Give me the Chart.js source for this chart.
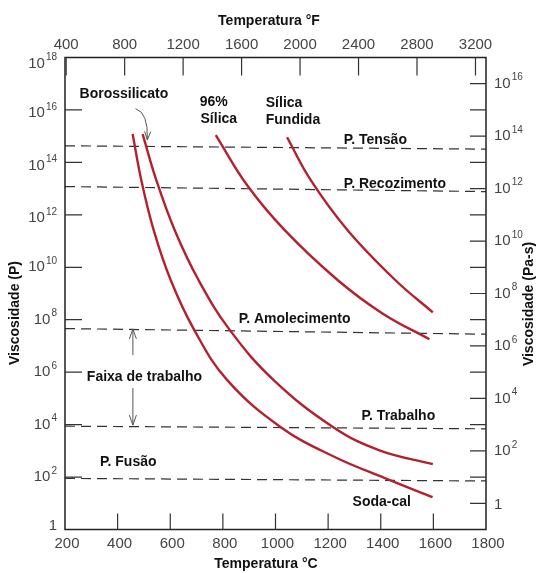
<!DOCTYPE html>
<html><head><meta charset="utf-8">
<script src="https://cdn.jsdelivr.net/npm/chart.js@4.4.0/dist/chart.umd.min.js"></script>
<style>html,body{margin:0;padding:0;background:#fff}#wrap{width:538px;height:573px}</style>
</head><body><div id="wrap"><canvas id="c" width="538" height="573"></canvas></div>
<script>
// ---- axis ticks ----
const celsiusTicks = [200, 400, 600, 800, 1000, 1200, 1400, 1600, 1800];
const fahrenheitTicks = [400, 800, 1200, 1600, 2000, 2400, 2800, 3200];
const poiseTickExponents = [2, 4, 6, 8, 10, 12, 14, 16];
const poiseLabelExponents = [0, 2, 4, 6, 8, 10, 12, 14, 16, 18];
const pasTickExponents = [0, 1, 2, 3, 4, 5, 6, 7, 8, 9, 10, 11, 12, 13, 14, 15, 16];
const pasLabelExponents = [0, 2, 4, 6, 8, 10, 12, 14, 16];

// ---- glass curves: temperature (°C) and viscosity (P) ----
const sodaLimeT = [457, 490, 537, 602, 691, 815, 1020, 1225, 1418, 1597];
const sodaLimeEta = [1.2e15, 2.1e13, 2.6e11, 3.2e9, 4.1e7, 5.2e5, 8.0e3, 5.8e2, 8.9e1, 1.7e1];
const borosilicateT = [495, 547, 617, 708, 826, 993, 1221, 1395, 1598];
const borosilicateEta = [1.2e15, 2.1e13, 2.6e11, 3.2e9, 4.1e7, 5.0e5, 7.8e3, 1.05e3, 3.1e2];
const silica96T = [773, 891, 1035, 1237, 1408, 1585];
const silica96Eta = [1.1e15, 1.4e13, 2.6e11, 3.2e9, 1.7e8, 1.8e7];
const fusedSilicaT = [1044, 1134, 1274, 1456, 1598];
const fusedSilicaEta = [9.1e14, 2.1e13, 2.6e11, 3.2e9, 1.9e8];

// ---- reference points (dashed lines), viscosity (P) at left and right edges ----
const refLineT = [200, 1800];
const strainEta = [4.3e14, 3.2e14];
const annealingEta = [1.2e13, 7.7e12];
const softeningEta = [4.6e7, 2.8e7];
const workingEta = [8.7e3, 6.9e3];
const meltingEta = [8.9e1, 7.1e1];

const pts = (xs, ys) => xs.map((x, i) => ({x: x, y: ys[i]}));
const RED = '#b5202e';
const curve = (d) => ({data: d, borderColor: RED, borderWidth: 2.4, pointRadius: 0, tension: 0.4, fill: false});
const dashed = (d) => ({data: d, borderColor: '#333', borderWidth: 1.2, borderDash: [10, 6], pointRadius: 0, tension: 0, fill: false});

const BOLD = 'bold 14px "Liberation Sans Narrow", "Liberation Sans", Arial, sans-serif';
const TICKFONT = '15px "Liberation Sans", Arial, sans-serif';
const EXPFONT = '10px "Liberation Sans", Arial, sans-serif';

// annotations in data coordinates (°C, P)
const notes = [
  {t: 'Borossilicato', c: 424, p: 16.61, align: 'center'},
  {t: '96%', c: 712, p: 16.31, align: 'left'},
  {t: 'Sílica', c: 715, p: 15.66, align: 'left'},
  {t: 'Sílica', c: 963, p: 16.27, align: 'left'},
  {t: 'Fundida', c: 963, p: 15.62, align: 'left'},
  {t: 'P. Tensão', c: 1259, p: 14.86, align: 'left'},
  {t: 'P. Recozimento', c: 1259, p: 13.18, align: 'left'},
  {t: 'P. Amolecimento', c: 860, p: 8.03, align: 'left'},
  {t: 'Faixa de trabalho', c: 283, p: 5.82, align: 'left'},
  {t: 'P. Trabalho', c: 1327, p: 4.32, align: 'left'},
  {t: 'P. Fusão', c: 333, p: 2.57, align: 'left'},
  {t: 'Soda-cal', c: 1293, p: 1.04, align: 'left'}
];

function drawPow(ctx, exp, x, y, align) {
  if (exp === 0) {
    ctx.font = TICKFONT; ctx.textAlign = align; ctx.textBaseline = 'middle';
    ctx.fillText('1', x, y);
    return;
  }
  ctx.font = TICKFONT;
  const wb = ctx.measureText('10').width;
  ctx.font = EXPFONT;
  const we = ctx.measureText(String(exp)).width;
  let x0 = align === 'right' ? x - wb - we - 1 : x;
  ctx.textAlign = 'left'; ctx.textBaseline = 'middle';
  ctx.font = TICKFONT; ctx.fillText('10', x0, y);
  ctx.font = EXPFONT; ctx.fillText(String(exp), x0 + wb + 1, y - 6);
}

const framePlugin = {
  id: 'frame',
  afterDatasetsDraw(chart) {
    const {ctx, chartArea: a, scales} = chart;
    const sx = scales.x, sy = scales.y, sf = scales.xF, sp = scales.yPa;
    ctx.save();
    // frame
    ctx.strokeStyle = '#222'; ctx.lineWidth = 1.5;
    ctx.strokeRect(a.left, a.top, a.right - a.left, a.bottom - a.top);
    ctx.lineWidth = 1.2; ctx.strokeStyle = '#333';
    ctx.beginPath();
    // bottom ticks (inward)
    celsiusTicks.forEach(v => { if (v > 200 && v < 1800) { const x = sx.getPixelForValue(v); ctx.moveTo(x, a.bottom); ctx.lineTo(x, a.bottom - 16); } });
    // top ticks (°F)
    fahrenheitTicks.forEach(v => { const x = sf.getPixelForValue(v); ctx.moveTo(x, a.top); ctx.lineTo(x, a.top + 18); });
    // left ticks
    poiseTickExponents.forEach(e => { const y = sy.getPixelForValue(Math.pow(10, e)); ctx.moveTo(a.left, y); ctx.lineTo(a.left + 17, y); });
    // right ticks
    pasTickExponents.forEach(e => { const y = sp.getPixelForValue(Math.pow(10, e)); ctx.moveTo(a.right, y); ctx.lineTo(a.right - 16, y); });
    ctx.stroke();

    // tick labels
    ctx.fillStyle = '#444';
    ctx.font = TICKFONT; ctx.textAlign = 'center'; ctx.textBaseline = 'middle';
    celsiusTicks.forEach(v => ctx.fillText(String(v), sx.getPixelForValue(v) + 2, a.bottom + 14));
    fahrenheitTicks.forEach(v => ctx.fillText(String(v), sf.getPixelForValue(v), a.top - 13));
    poiseLabelExponents.forEach(e => {
      const off = e === 0 ? -4 : (e === 18 ? 6 : (e >= 12 ? 3 : 0));
      drawPow(ctx, e, 57, sy.getPixelForValue(Math.pow(10, e)) + off, 'right');
    });
    pasLabelExponents.forEach(e => drawPow(ctx, e, a.right + 8, sp.getPixelForValue(Math.pow(10, e)) + (e === 0 ? 2 : 0), 'left'));

    // axis titles
    ctx.fillStyle = '#111'; ctx.font = BOLD; ctx.textAlign = 'center'; ctx.textBaseline = 'middle';
    ctx.fillText('Temperatura °F', 269, 21);
    ctx.fillText('Temperatura °C', 266, 564);
    ctx.save(); ctx.translate(15, 313); ctx.rotate(-Math.PI / 2); ctx.fillText('Viscosidade (P)', 0, 0); ctx.restore();
    ctx.save(); ctx.translate(529, 304); ctx.rotate(-Math.PI / 2); ctx.fillText('Viscosidade (Pa-s)', 0, 0); ctx.restore();

    // annotations
    ctx.fillStyle = '#111';
    notes.forEach(n => {
      ctx.textAlign = n.align; ctx.textBaseline = 'middle'; ctx.font = BOLD;
      ctx.fillText(n.t, sx.getPixelForValue(n.c), sy.getPixelForValue(Math.pow(10, n.p)));
    });

    // working range arrows
    ctx.strokeStyle = '#555'; ctx.lineWidth = 1;
    const ax = sx.getPixelForValue(458);
    const arrow = (y0, y1) => {
      const dir = Math.sign(y1 - y0);
      ctx.beginPath();
      ctx.moveTo(ax, y0); ctx.lineTo(ax, y1);
      ctx.moveTo(ax - 3.5, y1 - dir * 10); ctx.lineTo(ax, y1); ctx.lineTo(ax + 3.5, y1 - dir * 10);
      ctx.stroke();
    };
    arrow(sy.getPixelForValue(Math.pow(10, 6.65)), sy.getPixelForValue(Math.pow(10, 7.65)));
    arrow(sy.getPixelForValue(Math.pow(10, 5.4)), sy.getPixelForValue(Math.pow(10, 3.98)));

    // borosilicate curved pointer
    const p0 = {x: sx.getPixelForValue(468), y: sy.getPixelForValue(Math.pow(10, 16.05))};
    const pc = {x: sx.getPixelForValue(517), y: sy.getPixelForValue(Math.pow(10, 15.9))};
    const p1 = {x: sx.getPixelForValue(513), y: sy.getPixelForValue(Math.pow(10, 14.86))};
    ctx.beginPath(); ctx.moveTo(p0.x, p0.y); ctx.quadraticCurveTo(pc.x, pc.y, p1.x, p1.y); ctx.stroke();
    const ang = Math.atan2(p1.y - pc.y, p1.x - pc.x);
    ctx.beginPath();
    ctx.moveTo(p1.x - 9 * Math.cos(ang - 0.35), p1.y - 9 * Math.sin(ang - 0.35));
    ctx.lineTo(p1.x, p1.y);
    ctx.lineTo(p1.x - 9 * Math.cos(ang + 0.35), p1.y - 9 * Math.sin(ang + 0.35));
    ctx.stroke();
    ctx.restore();
  }
};

new Chart(document.getElementById('c'), {
  type: 'line',
  data: {
    datasets: [
      curve(pts(sodaLimeT, sodaLimeEta)),
      curve(pts(borosilicateT, borosilicateEta)),
      curve(pts(silica96T, silica96Eta)),
      curve(pts(fusedSilicaT, fusedSilicaEta)),
      dashed(pts(refLineT, strainEta)),
      dashed(pts(refLineT, annealingEta)),
      dashed(pts(refLineT, softeningEta)),
      dashed(pts(refLineT, workingEta)),
      dashed(pts(refLineT, meltingEta))
    ]
  },
  options: {
    responsive: false,
    animation: false,
    events: [],
    layout: {padding: {left: 65, right: 52, top: 57.5, bottom: 43.5}},
    plugins: {legend: {display: false}, tooltip: {enabled: false}},
    scales: {
      x: {type: 'linear', min: 200, max: 1800, display: false},
      xF: {type: 'linear', axis: 'x', position: 'top', min: 392, max: 3272, display: false},
      y: {type: 'logarithmic', min: 1, max: 1e18, display: false},
      yPa: {type: 'logarithmic', axis: 'y', position: 'right', min: 0.1, max: 1e17, display: false}
    }
  },
  plugins: [framePlugin]
});
</script>
</body></html>
